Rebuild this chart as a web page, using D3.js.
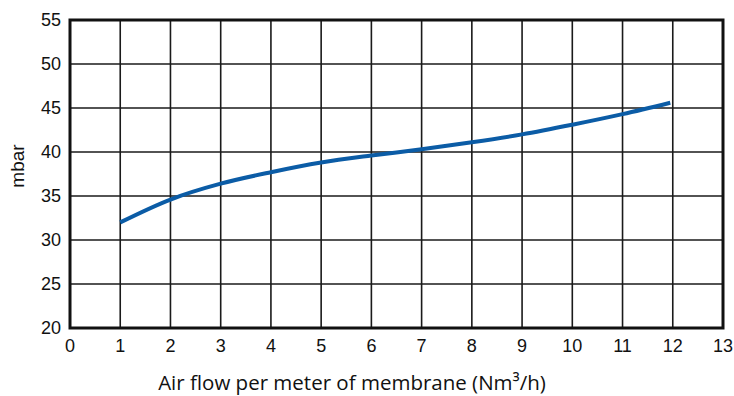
<!DOCTYPE html>
<html>
<head>
<meta charset="utf-8">
<script src="https://cdn.jsdelivr.net/npm/d3@7"></script>
<style>
  body { margin: 0; background: #fff; }
  svg { display: block; }
</style>
</head>
<body>
<div id="chart"></div>
<script>
var airFlow = [1, 2, 3, 4, 5, 6, 7, 8, 9, 10, 11, 11.95];
var pressure = [32.0, 34.6, 36.4, 37.7, 38.8, 39.6, 40.3, 41.1, 42.0, 43.1, 44.3, 45.6];
var xTicks = d3.range(0, 14);
var yTicks = [20, 25, 30, 35, 40, 45, 50, 55];

var width = 734, height = 396;
var margin = {left: 70, right: 11, top: 20, bottom: 68};

var svg = d3.select('#chart').append('svg').attr('width', width).attr('height', height);

var x = d3.scaleLinear().domain([0, 13]).range([margin.left, width - margin.right]);
var y = d3.scaleLinear().domain([20, 55]).range([height - margin.bottom, margin.top]);

// grid
svg.append('g').selectAll('line').data(xTicks).enter().append('line')
    .attr('x1', function (d) { return x(d); }).attr('x2', function (d) { return x(d); })
    .attr('y1', y(20)).attr('y2', y(55))
    .style('stroke', '#1a1a1a').style('stroke-width', 1.6);
svg.append('g').selectAll('line').data(yTicks).enter().append('line')
    .attr('x1', x(0)).attr('x2', x(13))
    .attr('y1', function (d) { return y(d); }).attr('y2', function (d) { return y(d); })
    .style('stroke', '#1a1a1a').style('stroke-width', 1.6);

// frame
svg.append('rect').attr('x', x(0)).attr('y', y(55))
    .attr('width', x(13) - x(0)).attr('height', y(20) - y(55))
    .style('fill', 'none').style('stroke', '#111').style('stroke-width', 3);

// curve
var line = d3.line().curve(d3.curveCatmullRom.alpha(0.5))
    .x(function (d, i) { return x(airFlow[i]); })
    .y(function (d) { return y(d); });
svg.append('path').datum(pressure).attr('d', line)
    .style('fill', 'none').style('stroke', '#0b5ca6').style('stroke-width', 4)
    .style('stroke-linecap', 'butt');

// tick labels
svg.append('g').selectAll('text').data(xTicks).enter().append('text')
    .attr('x', function (d) { return x(d); }).attr('y', 352)
    .style('text-anchor', 'middle').style('font-family', '"Liberation Sans", Arial, sans-serif')
    .style('font-size', '18px').style('fill', '#111')
    .text(function (d) { return d; });
svg.append('g').selectAll('text').data(yTicks).enter().append('text')
    .attr('x', 61).attr('y', function (d) { return y(d) + 6; })
    .style('text-anchor', 'end').style('font-family', '"Liberation Sans", Arial, sans-serif')
    .style('font-size', '18px').style('fill', '#111')
    .text(function (d) { return d; });

// axis titles
svg.append('text').attr('x', 352).attr('y', 390)
    .style('text-anchor', 'middle').style('font-family', '"Open Sans", "Noto Sans", sans-serif')
    .style('font-size', '20.5px').style('fill', '#111')
    .text('Air flow per meter of membrane (Nm³/h)');
svg.append('text').attr('transform', 'translate(24,166) rotate(-90)')
    .style('text-anchor', 'middle').style('font-family', '"Liberation Sans", Arial, sans-serif')
    .style('font-size', '19px').style('fill', '#111')
    .text('mbar');
</script>
</body>
</html>
